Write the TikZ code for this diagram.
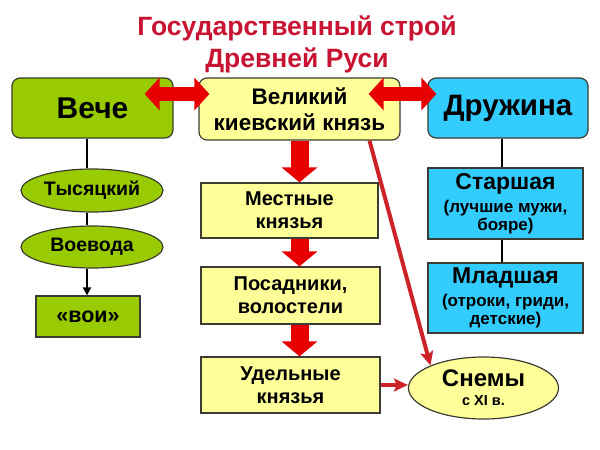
\documentclass[tikz,border=0pt]{standalone}
\usepackage{fontspec}
\setmainfont{Liberation Sans}
\usetikzlibrary{shapes.geometric,arrows.meta,calc}
\definecolor{vgreen}{RGB}{153,204,0}
\definecolor{vyellow}{RGB}{255,255,153}
\definecolor{vcyan}{RGB}{51,204,255}
\definecolor{vred}{RGB}{232,0,0}
\definecolor{vdred}{RGB}{205,35,40}
\definecolor{vtitle}{RGB}{200,20,50}
\definecolor{vborder}{RGB}{60,60,50}
\begin{document}
\begin{tikzpicture}[x=1pt,y=-1pt,
  box/.style={draw=vborder, line width=1.2pt, inner sep=0pt, align=center, font=\bfseries},
  topbox/.style={box, rounded corners=8pt},
  oval/.style={box, ellipse, fill=vgreen},
  titletext/.style={text=vtitle, font=\fontsize{26.5}{30}\selectfont\bfseries, anchor=base},
  dblarrow/.style={vred, line width=14pt, {Triangle[length=15pt,width=32pt]}-{Triangle[length=15pt,width=32pt]}},
  downarrow/.style={vred, line width=18pt, -{Triangle[length=15pt,width=35pt]}},
  thinarrow/.style={vdred, line width=4pt, -{Stealth[length=14pt,width=13pt,inset=3pt]}},
  blackline/.style={black, line width=1.8pt}
]
\useasboundingbox (0,0) rectangle (600,450);
% title
\node[titletext] (t1) at (297,35) {Государственный строй};
\node[titletext] (t2) at (297,67) {Древней Руси};
% top row
\node[topbox, fill=vgreen, minimum width=161pt, minimum height=60pt,
  font=\fontsize{30}{32}\selectfont\bfseries] (veche) at (92.5,108) {Вече};
\node[topbox, fill=vyellow, minimum width=201pt, minimum height=62pt,
  font=\fontsize{22.5}{26}\selectfont\bfseries] (knyaz) at (299.5,109) {Великий\\киевский князь};
\node[topbox, fill=vcyan, minimum width=160pt, minimum height=60pt,
  font=\fontsize{29.5}{32}\selectfont\bfseries] (druzh) at (508,108) {Дружина};
% left column
\node[oval, minimum width=142pt, minimum height=43pt,
  font=\fontsize{19.5}{22}\selectfont\bfseries] (tys) at (92,190.5) {Тысяцкий};
\node[oval, minimum width=142pt, minimum height=42pt,
  font=\fontsize{19.5}{22}\selectfont\bfseries] (voev) at (92,247) {Воевода};
\node[box, fill=vgreen, minimum width=104pt, minimum height=41pt,
  font=\fontsize{21.5}{24}\selectfont\bfseries] (voi) at (88,316.5) {«вои»};
% center column
\node[box, fill=vyellow, minimum width=177pt, minimum height=55pt,
  font=\fontsize{20}{23}\selectfont\bfseries] (mest) at (289.5,210.5) {Местные\\князья};
\node[box, fill=vyellow, minimum width=179pt, minimum height=57pt,
  font=\fontsize{20}{23}\selectfont\bfseries] (posad) at (290.5,295.5) {Посадники,\\волостели};
\node[box, fill=vyellow, minimum width=179pt, minimum height=56pt,
  font=\fontsize{20}{23}\selectfont\bfseries] (udel) at (290.5,385) {Удельные\\князья};
% right column
\node[box, fill=vcyan, minimum width=155pt, minimum height=71pt,
  font=\fontsize{17}{18}\selectfont\bfseries] (starsh) at (505.5,203.5)
  {{\fontsize{23}{24}\selectfont Старшая}\\[5pt](лучшие мужи,\\бояре)};
\node[box, fill=vcyan, minimum width=155pt, minimum height=70pt,
  font=\fontsize{17}{18}\selectfont\bfseries] (mladsh) at (505.5,298)
  {{\fontsize{23}{24}\selectfont Младшая}\\[5pt](отроки, гриди,\\детские)};
\node[box, ellipse, fill=vyellow, minimum width=150pt, minimum height=62pt,
  font=\fontsize{14.5}{17}\selectfont\bfseries] (snemy) at (483.5,388)
  {{\fontsize{24}{24}\selectfont Снемы}\\[2pt]с XI в.};
% black connectors
\coordinate (vl) at ([xshift=-5.5pt]veche.south);
\draw[blackline] (vl) -- (vl |- tys.north);
\draw[blackline] (vl |- tys.south) -- (vl |- voev.north);
\draw[blackline, -{Triangle[length=8pt,width=8pt]}] (vl |- voev.south) -- (vl |- voi.north);
\coordinate (dl) at ([xshift=-6pt]druzh.south);
\draw[blackline] (dl) -- (dl |- starsh.north);
\draw[blackline] (dl |- starsh.south) -- (dl |- mladsh.north);
% red double arrows
\coordinate (la) at ([xshift=-29pt,yshift=14pt]veche.east);
\coordinate (lb) at ([xshift=11pt,yshift=15pt]knyaz.west);
\draw[dblarrow] (la) -- (lb);
\coordinate (ra) at ([xshift=-32pt,yshift=15pt]knyaz.east);
\coordinate (rb) at ([xshift=9pt,yshift=14pt]druzh.west);
\draw[dblarrow] (ra) -- (rb);
% thick down arrows
\draw[downarrow] (knyaz.south) -- (knyaz.south |- mest.north);
\draw[downarrow] (mest.south -| knyaz.south) -- (posad.north -| knyaz.south);
\draw[downarrow] (posad.south -| knyaz.south) -- (udel.north -| knyaz.south);
% thin red arrows
\draw[thinarrow] ([xshift=70pt]knyaz.south) -- (snemy.157);
\draw[thinarrow] (udel.east) -- (snemy.west |- udel.east);
\end{tikzpicture}
\end{document}
